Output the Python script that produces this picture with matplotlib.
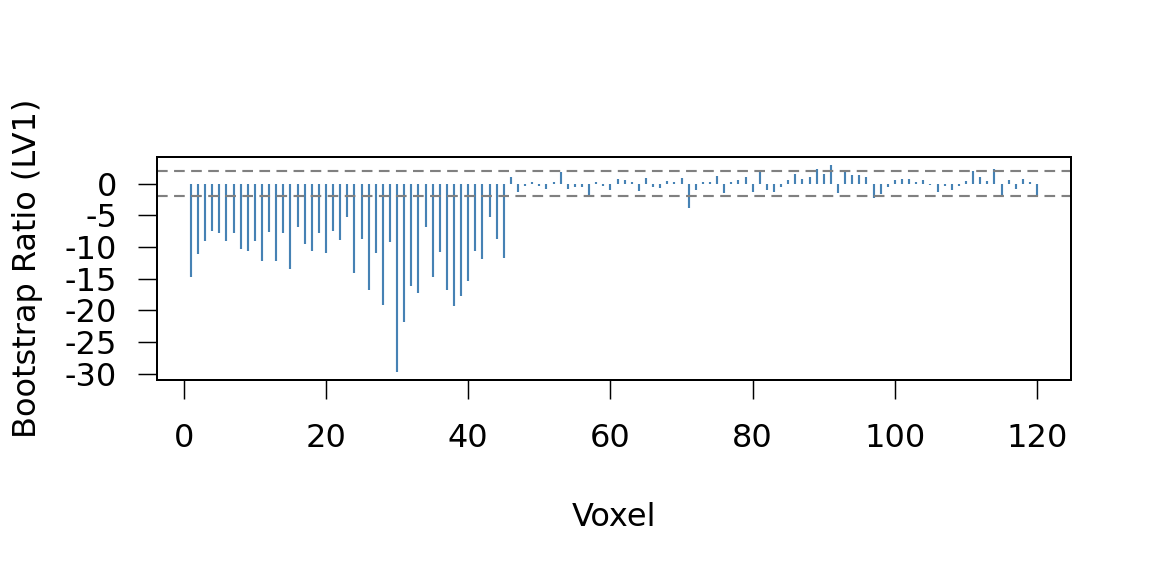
import numpy as np
import matplotlib
matplotlib.use("Agg")
import matplotlib.pyplot as plt

# bootstrap ratios for LV1, one per voxel
voxel = np.arange(1, 121)
bsr = [
    -14.7, -11.1, -9.1, -7.5, -7.8, -9.0, -7.8, -10.3, -10.7, -9.0,
    -12.2, -7.6, -12.2, -7.8, -13.4, -6.8, -9.5, -10.7, -7.8, -10.9,
    -7.5, -8.9, -5.3, -14.1, -8.8, -16.8, -11.0, -19.1, -9.2, -29.7,
    -21.9, -16.2, -17.3, -6.9, -14.8, -10.8, -16.8, -19.4, -17.8, -15.4,
    -10.6, -11.9, -5.3, -8.8, -11.8, 1.0, -1.3, -0.4, 0.3, -0.4,
    -0.8, 0.3, 1.9, -0.8, -0.6, -0.6, -2.0, 0.2, -0.3, -1.0,
    0.8, 0.5, 0.3, -1.2, 0.9, -0.5, -0.7, 0.4, 0.2, 0.9,
    -3.9, -1.0, 0.2, 0.2, 1.2, -1.5, 0.3, 0.5, 1.0, -1.3,
    2.2, -1.0, -1.3, -0.5, 0.5, 1.6, 0.8, 1.0, 2.3, 1.6,
    2.9, -1.4, 1.9, 1.3, 1.3, 1.0, -2.3, -1.7, -0.5, 0.6,
    0.7, 0.7, 0.3, 0.6, -0.2, -1.3, -0.3, -1.0, -0.3, 0.4,
    2.0, 1.0, 0.4, 2.3, -1.9, 0.6, -0.8, 0.8, 0.3, -1.9,
]
cutoff = 2
yticks = [0, -5, -10, -15, -20, -25, -30]
xticks = [0, 20, 40, 60, 80, 100, 120]

fig = plt.figure(figsize=(12, 6), dpi=96)
ax = fig.add_axes([0.1363, 0.3403, 0.7934, 0.3871])

ax.vlines(voxel, 0, bsr, color="steelblue", lw=1.6)
for c in (cutoff, -cutoff):
    ax.axhline(c, color="#808080", lw=1.6, dashes=(5, 3))

# R-style 4% padding on both axes
xr = voxel.max() - voxel.min()
ax.set_xlim(voxel.min() - 0.04 * xr, voxel.max() + 0.04 * xr)
yr = max(bsr) - min(bsr)
ax.set_ylim(min(bsr) - 0.04 * yr, max(bsr) + 0.04 * yr)

ax.set_xticks(xticks)
ax.set_xticklabels([str(t) for t in xticks])
ax.set_yticks(yticks)
ax.set_yticklabels([str(t) for t in yticks])

ax.tick_params(axis="both", labelsize=24, length=14, width=1.1, direction="out")
ax.tick_params(axis="x", pad=18)
ax.tick_params(axis="y", pad=16)
for s in ax.spines.values():
    s.set_linewidth(1.5)

ax.set_xlabel("Voxel", fontsize=24, labelpad=36)
ax.set_ylabel("Bootstrap Ratio (LV1)", fontsize=24, labelpad=16)

fig.savefig("out.png", dpi=96)
